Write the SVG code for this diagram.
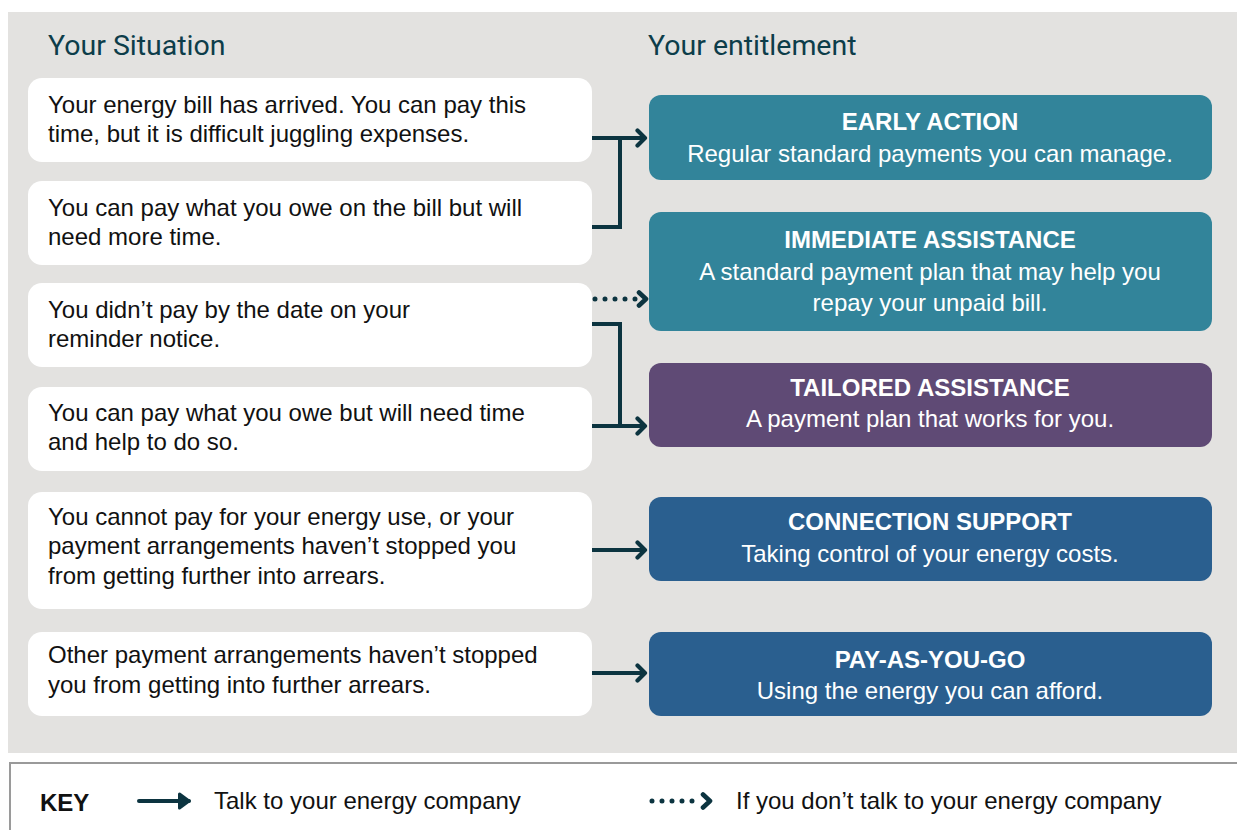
<svg xmlns="http://www.w3.org/2000/svg" width="1237" height="830" viewBox="0 0 1237 830">
<defs>
<style>
.bg{fill:#e3e2e0}
.sit{fill:#ffffff}
.head{font-family:Roboto,'Noto Sans',sans-serif;font-size:28.5px;fill:#0d3d4a}
.lt{font-family:'Liberation Sans',Arial,Helvetica,sans-serif;font-size:24px;fill:#111}
.rt{font-family:'Liberation Sans',Arial,Helvetica,sans-serif;font-size:24px;fill:#fff;text-anchor:middle}
.b{font-weight:bold}
.teal{fill:#32849a}
.purple{fill:#5f4a75}
.blue{fill:#2a5f8f}
.con{fill:none;stroke:#0c3440;stroke-width:4}
.dot{fill:none;stroke:#0c3440;stroke-width:5;stroke-linecap:round;stroke-dasharray:0 10}
.key{font-family:'Liberation Sans',Arial,Helvetica,sans-serif;font-size:24px;fill:#111}
</style>
<marker id="ah" viewBox="0 0 14 20" refX="11" refY="10" markerWidth="14" markerHeight="20" markerUnits="userSpaceOnUse" orient="auto">
<path d="M3.5,2.5 L11,10 L3.5,17.5" fill="none" stroke="#0c3440" stroke-width="4.2" stroke-linecap="round" stroke-linejoin="round"/>
</marker>
<marker id="ahd" viewBox="0 0 14 20" refX="11" refY="10" markerWidth="14" markerHeight="20" markerUnits="userSpaceOnUse" orient="auto">
<path d="M4,3.5 L11,10 L4,16.5" fill="none" stroke="#0c3440" stroke-width="4.6" stroke-linecap="round" stroke-linejoin="round"/>
</marker>
<marker id="ahk" viewBox="0 0 16 20" refX="13" refY="10" markerWidth="16" markerHeight="20" markerUnits="userSpaceOnUse" orient="auto">
<path d="M3.5,3 L13,10 L3.5,17 Z" fill="#0c3440" stroke="#0c3440" stroke-width="3" stroke-linejoin="round"/>
</marker>
</defs>
<rect x="0" y="0" width="1237" height="830" fill="#ffffff"/>
<rect class="bg" x="8" y="12" width="1229" height="741"/>
<text class="head" x="48" y="55">Your Situation</text>
<text class="head" x="648" y="55">Your entitlement</text>

<g id="s1"><rect class="sit" x="28" y="78" width="564" height="84" rx="14"/>
<text class="lt" x="48" y="113">Your energy bill has arrived. You can pay this</text>
<text class="lt" x="48" y="142">time, but it is difficult juggling expenses.</text></g>
<g id="s2"><rect class="sit" x="28" y="181" width="564" height="84" rx="14"/>
<text class="lt" x="48" y="216">You can pay what you owe on the bill but will</text>
<text class="lt" x="48" y="245">need more time.</text></g>
<g id="s3"><rect class="sit" x="28" y="283" width="564" height="84" rx="14"/>
<text class="lt" x="48" y="318">You didn’t pay by the date on your</text>
<text class="lt" x="48" y="347">reminder notice.</text></g>
<g id="s4"><rect class="sit" x="28" y="387" width="564" height="84" rx="14"/>
<text class="lt" x="48" y="421">You can pay what you owe but will need time</text>
<text class="lt" x="48" y="450">and help to do so.</text></g>
<g id="s5"><rect class="sit" x="28" y="492" width="564" height="117" rx="14"/>
<text class="lt" x="48" y="525">You cannot pay for your energy use, or your</text>
<text class="lt" x="48" y="554">payment arrangements haven’t stopped you</text>
<text class="lt" x="48" y="584">from getting further into arrears.</text></g>
<g id="s6"><rect class="sit" x="28" y="632" width="564" height="84" rx="14"/>
<text class="lt" x="48" y="663">Other payment arrangements haven’t stopped</text>
<text class="lt" x="48" y="693">you from getting into further arrears.</text></g>

<g id="e1"><rect class="teal" x="649" y="95" width="563" height="85" rx="12"/>
<text class="rt b" x="930" y="130">EARLY ACTION</text>
<text class="rt" x="930" y="162">Regular standard payments you can manage.</text></g>
<g id="e2"><rect class="teal" x="649" y="212" width="563" height="119" rx="12"/>
<text class="rt b" x="930" y="248">IMMEDIATE ASSISTANCE</text>
<text class="rt" x="930" y="280">A standard payment plan that may help you</text>
<text class="rt" x="930" y="311">repay your unpaid bill.</text></g>
<g id="e3"><rect class="purple" x="649" y="363" width="563" height="84" rx="12"/>
<text class="rt b" x="930" y="396">TAILORED ASSISTANCE</text>
<text class="rt" x="930" y="427">A payment plan that works for you.</text></g>
<g id="e4"><rect class="blue" x="649" y="497" width="563" height="84" rx="12"/>
<text class="rt b" x="930" y="530">CONNECTION SUPPORT</text>
<text class="rt" x="930" y="562">Taking control of your energy costs.</text></g>
<g id="e5"><rect class="blue" x="649" y="632" width="563" height="84" rx="12"/>
<text class="rt b" x="930" y="668">PAY-AS-YOU-GO</text>
<text class="rt" x="930" y="699">Using the energy you can afford.</text></g>

<g id="connectors">
<path class="con" d="M592,138 H645" marker-end="url(#ah)"/>
<path class="con" d="M592,227 H620 V138"/>
<path class="dot" d="M595,299 H636"/>
<path class="con" d="M643,299 H646" stroke-opacity="0" marker-end="url(#ahd)"/>
<path class="con" d="M592,324 H620 V426"/>
<path class="con" d="M592,426 H645" marker-end="url(#ah)"/>
<path class="con" d="M592,550 H645" marker-end="url(#ah)"/>
<path class="con" d="M592,673 H645" marker-end="url(#ah)"/>
</g>

<g id="key">
<rect x="10" y="763" width="1240" height="80" fill="#ffffff" stroke="#9a9a9a" stroke-width="2"/>
<text class="key b" x="40" y="811" font-size="28">KEY</text>
<path class="con" d="M139,801 H189" stroke-width="5.5" stroke-linecap="round" marker-end="url(#ahk)"/>
<text class="key" x="214" y="809">Talk to your energy company</text>
<path class="dot" d="M652,801 H696" stroke-width="4" stroke-dasharray="0 8.5"/>
<path class="con" d="M706,801 H710" stroke-opacity="0" marker-end="url(#ahd)"/>
<text class="key" x="736" y="809">If you don’t talk to your energy company</text>
</g>
</svg>
